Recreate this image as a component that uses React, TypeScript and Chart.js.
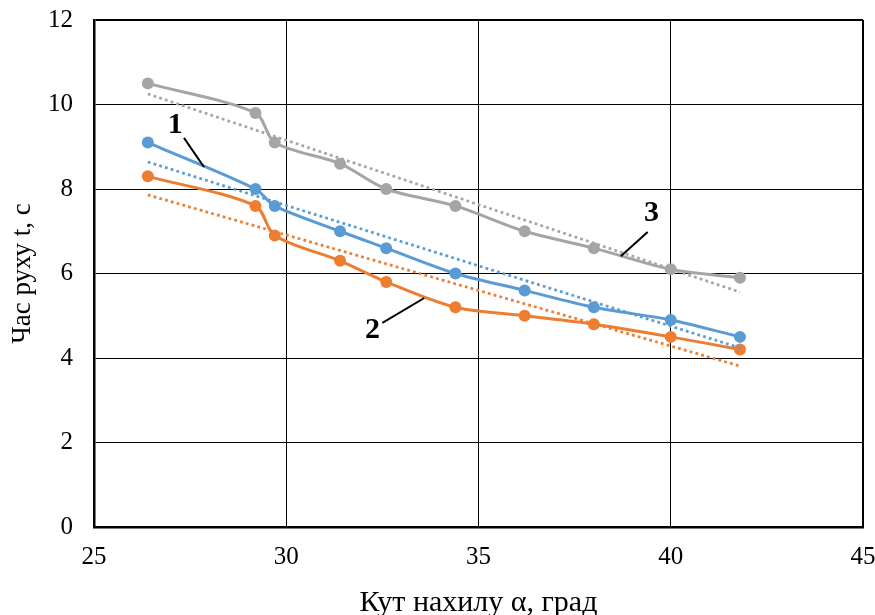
import React, { useEffect, useRef } from "react";
import { Chart, registerables } from "chart.js";

Chart.register(...registerables);

const angles = [26.4, 29.2, 29.7, 31.4, 32.6, 34.4, 36.2, 38.0, 40.0, 41.8];
const series1 = [9.1, 8.0, 7.6, 7.0, 6.6, 6.0, 5.6, 5.2, 4.9, 4.5];
const series2 = [8.3, 7.6, 6.9, 6.3, 5.8, 5.2, 5.0, 4.8, 4.5, 4.2];
const series3 = [10.5, 9.8, 9.1, 8.6, 8.0, 7.6, 7.0, 6.6, 6.1, 5.9];

const trendX = [26.4, 41.8];
const trend1 = [8.64, 4.24];
const trend2 = [7.86, 3.81];
const trend3 = [10.25, 5.56];

const leader1 = [
  { x: 27.34, y: 9.21 },
  { x: 27.86, y: 8.52 },
];
const leader2 = [
  { x: 32.5, y: 4.83 },
  { x: 33.59, y: 5.42 },
];
const leader3 = [
  { x: 39.4, y: 6.98 },
  { x: 38.7, y: 6.41 },
];
const labelTexts = ["1", "2", "3"];
const labelX = [27.11, 32.24, 39.5];
const labelY = [9.51, 4.66, 7.43];

const xTicks = [25, 30, 35, 40, 45];
const yTicks = [0, 2, 4, 6, 8, 10, 12];

const BLUE = "#5B9BD5";
const ORANGE = "#ED7D31";
const GRAY = "#A5A5A5";
const FONT = "'Liberation Serif', 'Times New Roman', serif";

const toPts = (xs: number[], ys: number[]) => xs.map((x, i) => ({ x, y: ys[i] }));

export default function App() {
  const ref = useRef<HTMLCanvasElement>(null);

  useEffect(() => {
    const canvas = ref.current;
    if (!canvas) return;

    const labelPlugin = {
      id: "numLabels",
      afterDatasetsDraw(chart: any) {
        const { ctx, scales } = chart;
        ctx.save();
        ctx.fillStyle = "#000";
        ctx.font = `bold 30px ${FONT}`;
        ctx.textAlign = "center";
        ctx.textBaseline = "middle";
        labelTexts.forEach((t, i) => {
          ctx.fillText(t, scales.x.getPixelForValue(labelX[i]), scales.y.getPixelForValue(labelY[i]));
        });
        ctx.restore();
      },
    };

    const line = (data: any, color: string, order: number) => ({
      data,
      borderColor: color,
      backgroundColor: color,
      borderWidth: 3,
      pointRadius: 6,
      pointHoverRadius: 6,
      pointBorderWidth: 0,
      tension: 0.3,
      order,
    });
    const trend = (data: any, color: string) => ({
      data,
      borderColor: color,
      borderWidth: 2.75,
      borderDash: [2.75, 3.25],
      pointRadius: 0,
      tension: 0,
      order: 1,
    });
    const leader = (data: any) => ({
      data,
      borderColor: "#000",
      borderWidth: 2,
      pointRadius: 0,
      tension: 0,
      order: 0,
    });

    const chart = new Chart(canvas, {
      type: "line",
      data: {
        datasets: [
          line(toPts(angles, series1), BLUE, 4),
          line(toPts(angles, series2), ORANGE, 3),
          line(toPts(angles, series3), GRAY, 2),
          trend(toPts(trendX, trend1), BLUE),
          trend(toPts(trendX, trend2), ORANGE),
          trend(toPts(trendX, trend3), GRAY),
          leader(leader1),
          leader(leader2),
          leader(leader3),
        ] as any,
      },
      options: {
        animation: false,
        responsive: false,
        layout: { padding: { top: 20, right: 12, left: 0, bottom: 0 } },
        plugins: { legend: { display: false }, tooltip: { enabled: false } },
        scales: {
          x: {
            type: "linear",
            min: 25,
            max: 45,
            afterFit: (s: any) => {
              s.height = 88;
              s.paddingLeft = 0;
              s.paddingRight = 0;
            },
            afterBuildTicks: (s: any) => {
              s.ticks = xTicks.map((v) => ({ value: v }));
            },
            ticks: {
              color: "#000",
              font: { family: FONT, size: 25 },
              padding: 15,
              maxRotation: 0,
            },
            grid: {
              color: "#000",
              lineWidth: (c: any) => (c.tick && c.tick.value === 45 ? 2 : 1),
              drawTicks: false,
            },
            border: { display: true, color: "#000", width: 2.5 },
            title: {
              display: true,
              text: "Кут нахилу α, град",
              color: "#000",
              font: { family: FONT, size: 30, lineHeight: 1 },
              padding: { top: 0, bottom: -3 },
            },
          },
          y: {
            type: "linear",
            min: 0,
            max: 12,
            afterFit: (s: any) => {
              s.width = 94;
              s.paddingTop = 0;
              s.paddingBottom = 0;
            },
            afterBuildTicks: (s: any) => {
              s.ticks = yTicks.map((v) => ({ value: v }));
            },
            ticks: {
              color: "#000",
              font: { family: FONT, size: 25 },
              padding: 21,
            },
            grid: {
              color: "#000",
              lineWidth: (c: any) => (c.tick && c.tick.value === 12 ? 2 : 1),
              drawTicks: false,
            },
            border: { display: true, color: "#000", width: 2.5 },
            title: {
              display: true,
              text: "Час руху t, с",
              color: "#000",
              font: { family: FONT, size: 27, lineHeight: 1 },
              padding: { top: 9, bottom: 0 },
            },
          },
        },
      },
      plugins: [labelPlugin],
    });

    return () => chart.destroy();
  }, []);

  return (
    <div style={{ position: "fixed", left: 0, top: 0, width: 875, height: 615, background: "#fff" }}>
      <canvas ref={ref} width={875} height={615} style={{ display: "block" }} />
    </div>
  );
}
